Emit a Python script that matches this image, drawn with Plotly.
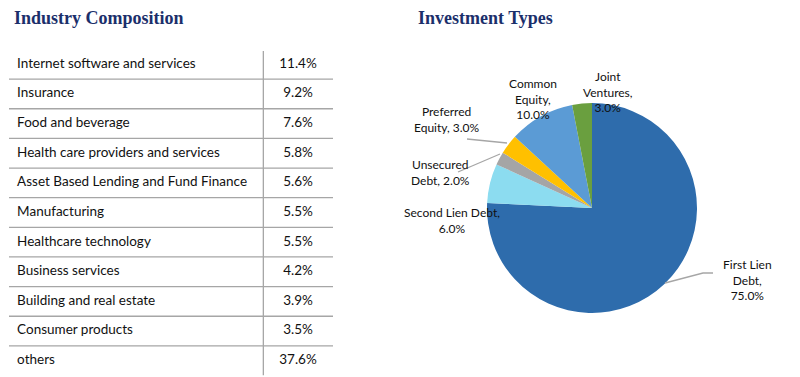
import plotly.graph_objects as go

# ---------------- data ----------------
industries = [
    "Internet software and services",
    "Insurance",
    "Food and beverage",
    "Health care providers and services",
    "Asset Based Lending and Fund Finance",
    "Manufacturing",
    "Healthcare technology",
    "Business services",
    "Building and real estate",
    "Consumer products",
    "others",
]
industry_pct = [11.4, 9.2, 7.6, 5.8, 5.6, 5.5, 5.5, 4.2, 3.9, 3.5, 37.6]

inv_types = ["First Lien Debt", "Second Lien Debt", "Unsecured Debt",
             "Preferred Equity", "Common Equity", "Joint Ventures"]
inv_pct = [75.0, 6.0, 2.0, 3.0, 10.0, 3.0]
inv_label_text = ["First Lien<br>Debt,<br>75.0%", "Second Lien Debt,<br>6.0%",
                  "Unsecured<br>Debt, 2.0%", "Preferred<br>Equity, 3.0%",
                  "Common<br>Equity,<br>10.0%", "Joint<br>Ventures,<br>3.0%"]
inv_colors = ["#2E6CAC", "#8CDCF0", "#A5A5A5", "#FFC000", "#5B9BD5", "#6A9F3F"]

W, H = 800, 377
OFF = 8  # page body margin


def px(x):
    return (x - OFF) / W


def py(y):
    return 1 - (y - OFF) / H


fig = go.Figure()

# ---------------- table (drawn on its own axes) ----------------
n = len(industries)
row_y = [i + 0.5 for i in range(n)]
fig.add_trace(go.Scatter(
    x=[0.025] * n, y=row_y, text=industries, mode="text",
    textposition="middle right",
    textfont=dict(family="Lato", size=13.5, color="#111111"),
    xaxis="x2", yaxis="y2", hoverinfo="skip", showlegend=False))
fig.add_trace(go.Scatter(
    x=[0.892] * n, y=row_y, text=[f"{v:.1f}%" for v in industry_pct],
    mode="text", textposition="middle center",
    textfont=dict(family="Lato", size=13.5, color="#111111"),
    xaxis="x2", yaxis="y2", hoverinfo="skip", showlegend=False))

shapes = []
for i in range(1, n):
    shapes.append(dict(type="line", xref="x2", yref="y2", x0=0, x1=1, y0=i, y1=i,
                       line=dict(color="#A6A6A6", width=1.3)))
shapes.append(dict(type="line", xref="x2", yref="y2", x0=0.785, x1=0.785, y0=0.05, y1=n,
                   line=dict(color="#A6A6A6", width=1.3)))

# ---------------- pie ----------------
fig.add_trace(go.Pie(
    labels=inv_types, values=inv_pct, sort=False, direction="clockwise",
    rotation=0, marker=dict(colors=inv_colors, line=dict(width=0)),
    textinfo="none", hoverinfo="label+percent", showlegend=False,
    domain=dict(x=[px(487), px(697)], y=[py(313), py(103)])))

# pie labels
label_pos = [(747, 280), (452, 220), (440, 172), (447, 119), (533, 99), (608, 92)]
annotations = []
for txt, (lx, ly) in zip(inv_label_text, label_pos):
    annotations.append(dict(x=px(lx), y=py(ly), xref="paper", yref="paper",
                            text=txt, showarrow=False, xanchor="center", yanchor="middle",
                            font=dict(family="Lato", size=12, color="#111111")))

# leader lines
leaders = [
    [(665, 283), (703, 273), (713, 273)],
    [(458, 172), (500, 154)],
    [(467, 139), (507, 143)],
]
for pts in leaders:
    path = "M " + " L ".join(f"{px(a)},{py(b)}" for a, b in pts)
    shapes.append(dict(type="path", xref="paper", yref="paper", path=path,
                       line=dict(color="#A6A6A6", width=1.3)))

# titles
for t, x in [("Industry Composition", 12), ("Investment Types", 416)]:
    annotations.append(dict(x=px(x), y=py(18), xref="paper", yref="paper", text=f"<b>{t}</b>",
                            showarrow=False, xanchor="left", yanchor="middle",
                            font=dict(family="Liberation Serif", size=18, color="#1B2F6B")))

fig.update_layout(
    width=W, height=H, margin=dict(l=0, r=0, t=0, b=0),
    paper_bgcolor="white", plot_bgcolor="white",
    xaxis2=dict(domain=[px(9), px(333)], range=[0, 1], visible=False, fixedrange=True),
    yaxis2=dict(domain=[py(375.5), py(49.5)], range=[n, 0], visible=False, fixedrange=True),
    shapes=shapes, annotations=annotations,
)

fig.write_html("out.html")
